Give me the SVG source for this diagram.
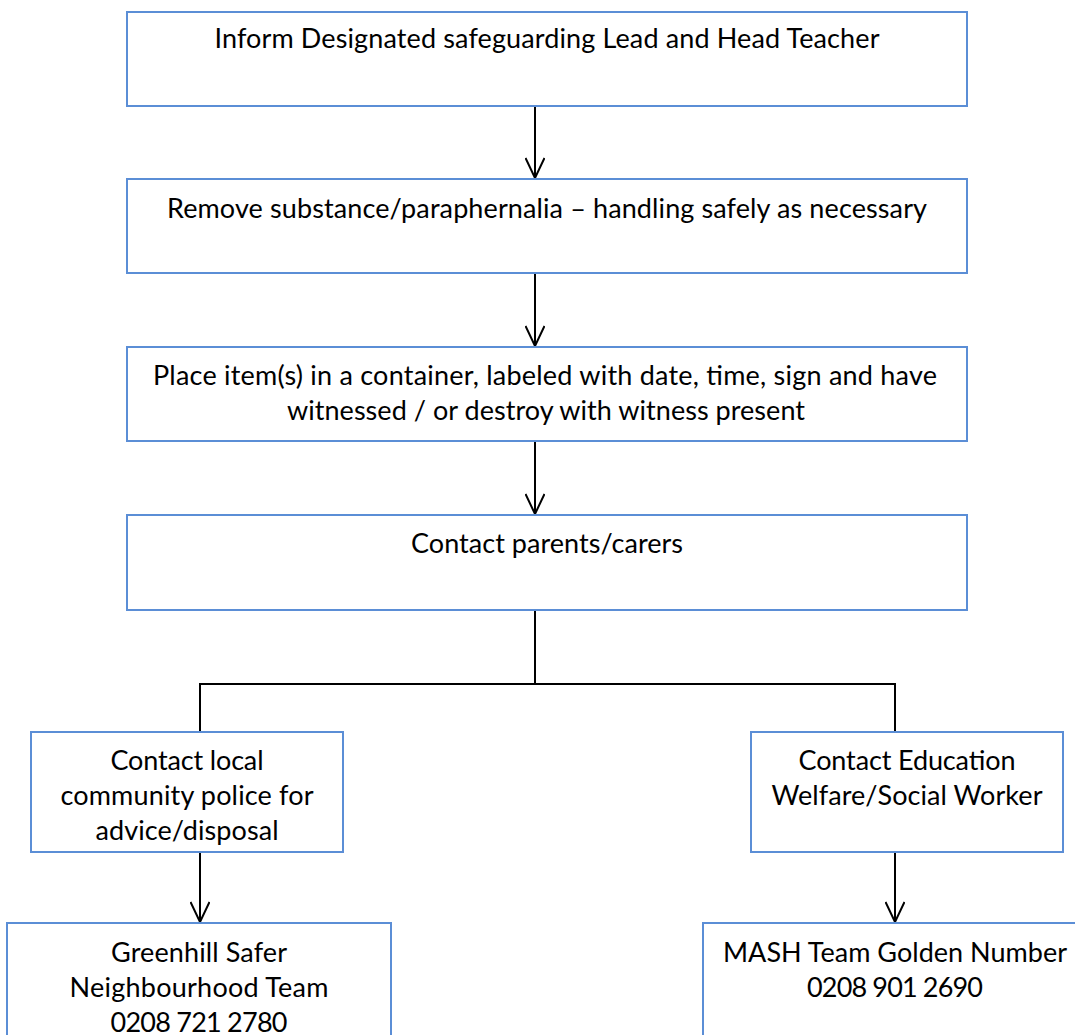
<svg xmlns="http://www.w3.org/2000/svg" width="1075" height="1035" viewBox="0 0 1075 1035">
<style>
.box{fill:#fff;stroke:#5B8ED6;stroke-width:2}
.t{font-family:Lato,"Liberation Sans",sans-serif;font-size:27px;fill:#000;text-anchor:middle}
.c{fill:none;stroke:#000;stroke-width:2}
</style>
<defs>
<marker id="arr" viewBox="0 0 22 20" refX="21" refY="10" markerWidth="22" markerHeight="20" markerUnits="userSpaceOnUse" orient="auto">
<path d="M1,0.5 L21,10 L1,19.5" fill="none" stroke="#000" stroke-width="2"/>
</marker>
<clipPath id="clipL"><rect x="31" y="732" width="312" height="120"/></clipPath>
</defs>
<g id="connectors">
<line class="c" x1="535" y1="106" x2="535" y2="178" marker-end="url(#arr)"/>
<line class="c" x1="535" y1="273" x2="535" y2="346" marker-end="url(#arr)"/>
<line class="c" x1="535" y1="441" x2="535" y2="514" marker-end="url(#arr)"/>
<polyline class="c" points="535,610 535,684"/>
<polyline class="c" points="200,732 200,684 895,684 895,732"/>
<line class="c" x1="200" y1="852" x2="200" y2="922" marker-end="url(#arr)"/>
<line class="c" x1="895" y1="852" x2="895" y2="922" marker-end="url(#arr)"/>
</g>
<g id="n1">
<rect class="box" x="127" y="12" width="840" height="94"/>
<text class="t" x="547" y="48" textLength="665">Inform Designated safeguarding Lead and Head Teacher</text>
</g>
<g id="n2">
<rect class="box" x="127" y="179" width="840" height="94"/>
<text class="t" x="547" y="218" textLength="760">Remove substance/paraphernalia – handling safely as necessary</text>
</g>
<g id="n3">
<rect class="box" x="127" y="347" width="840" height="94"/>
<text class="t" x="545" y="385" textLength="784">Place item(s) in a container, labeled with date, time, sign and have</text>
<text class="t" x="546" y="420" textLength="518">witnessed / or destroy with witness present</text>
</g>
<g id="n4">
<rect class="box" x="127" y="515" width="840" height="95"/>
<text class="t" x="547" y="553" textLength="272">Contact parents/carers</text>
</g>
<g id="n5">
<rect class="box" x="31" y="732" width="312" height="120"/>
<g clip-path="url(#clipL)">
<text class="t" x="187" y="770" textLength="153">Contact local</text>
<text class="t" x="187" y="805" textLength="253">community police for</text>
<text class="t" x="187" y="840" textLength="183">advice/disposal</text>
</g>
</g>
<g id="n6">
<rect class="box" x="751" y="732" width="312" height="120"/>
<text class="t" x="907" y="770" textLength="217">Contact Education</text>
<text class="t" x="907" y="805" textLength="271">Welfare/Social Worker</text>
</g>
<g id="n7">
<rect class="box" x="7" y="923" width="384" height="130"/>
<text class="t" x="199" y="962" textLength="176">Greenhill Safer</text>
<text class="t" x="199" y="997" textLength="259">Neighbourhood Team</text>
<text class="t" x="199" y="1032" textLength="177">0208 721 2780</text>
</g>
<g id="n8">
<rect class="box" x="703" y="923" width="390" height="130"/>
<text class="t" x="895" y="962" textLength="344">MASH Team Golden Number</text>
<text class="t" x="895" y="997" textLength="176">0208 901 2690</text>
</g>
</svg>
